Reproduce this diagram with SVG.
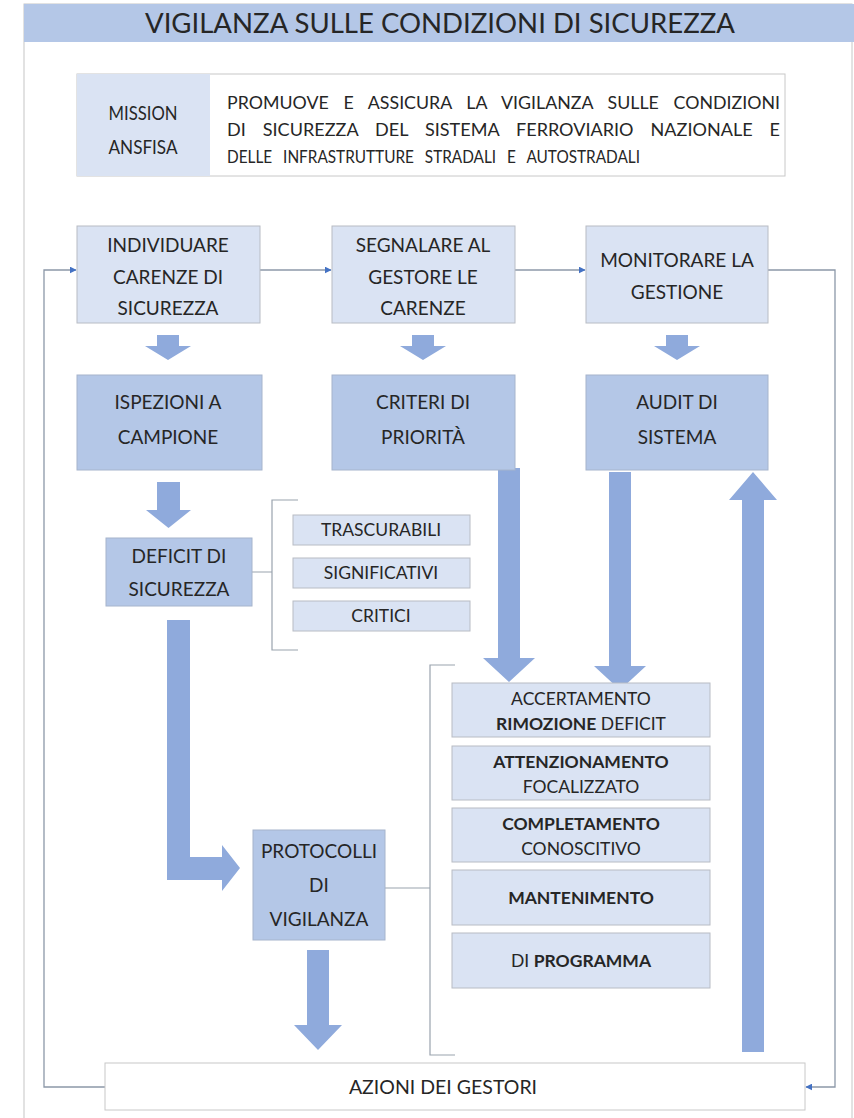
<svg xmlns="http://www.w3.org/2000/svg" width="854" height="1118" viewBox="0 0 854 1118">
  <defs>
    <style>
      text { font-family: Lato, "Open Sans", "Liberation Sans", sans-serif; fill: #262626; text-anchor: middle; }
      .lt { fill: #dae3f3; stroke: #b8bcc4; stroke-width: 1; }
      .dk { fill: #b4c7e7; stroke: #a6b4cc; stroke-width: 1; }
      .wh { fill: #ffffff; stroke: #c8c8c8; stroke-width: 1; }
      .blk { fill: #8faadc; }
      .link { fill: none; stroke: #8c98a8; stroke-width: 1.3; }
      .brk { fill: none; stroke: #9aa3ae; stroke-width: 1.2; }
      .t20 { font-size: 19px; }
      .t17 { font-size: 17.5px; }
      .t18 { font-size: 17.5px; }
      .b { font-weight: bold; }
      .ms { font-size: 17.5px; text-anchor: start; }
    </style>
    <marker id="ah" viewBox="0 0 10 10" refX="9" refY="5" markerWidth="7" markerHeight="7" orient="auto" markerUnits="userSpaceOnUse">
      <path d="M0,0 L10,5 L0,10 z" fill="#4472c4"/>
    </marker>
  </defs>

  <!-- page frame and title band -->
  <rect x="24" y="4" width="828" height="1130" fill="#ffffff" stroke="#c6c6c6" stroke-width="1"/>
  <rect x="24" y="4" width="830" height="38" fill="#b4c7e7"/>
  <text x="440" y="33" font-size="26" textLength="590" lengthAdjust="spacingAndGlyphs">VIGILANZA SULLE CONDIZIONI DI SICUREZZA</text>

  <!-- mission -->
  <g id="mission">
    <rect x="77" y="74" width="708" height="102" class="wh"/>
    <rect x="77" y="74" width="133" height="102" fill="#dae3f3"/>
    <text x="143" y="120" font-size="19" textLength="69" lengthAdjust="spacingAndGlyphs">MISSION</text>
    <text x="143" y="154" font-size="19" textLength="69" lengthAdjust="spacingAndGlyphs">ANSFISA</text>
    <text x="227" y="109" class="ms" word-spacing="10" textLength="553" lengthAdjust="spacingAndGlyphs">PROMUOVE E ASSICURA LA VIGILANZA SULLE CONDIZIONI</text>
    <text x="227" y="136" class="ms" word-spacing="12" textLength="553" lengthAdjust="spacingAndGlyphs">DI SICUREZZA DEL SISTEMA FERROVIARIO NAZIONALE E</text>
    <text x="227" y="163" class="ms" word-spacing="8" textLength="413" lengthAdjust="spacingAndGlyphs">DELLE INFRASTRUTTURE STRADALI E AUTOSTRADALI</text>
  </g>

  <!-- connectors -->
  <g id="connectors">
    <path class="link" d="M260,270 H331" marker-end="url(#ah)"/>
    <path class="link" d="M515,270 H585" marker-end="url(#ah)"/>
    <path class="link" d="M105,1087 H44 V270 H76" marker-end="url(#ah)"/>
    <path class="link" d="M768,270 H835 V1087 H806" marker-end="url(#ah)"/>
    <path class="brk" d="M252,572 H272 M298,500 H272 V650 H298"/>
    <path class="brk" d="M385,888 H430 M455,665 H430 V1055 H455"/>
    <!-- block arrows -->
    <path class="blk" d="M157,335 H179 V346 H191 L168,360 L145,346 H157 Z"/>
    <path class="blk" d="M412,335 H434 V346 H446 L423,360 L400,346 H412 Z"/>
    <path class="blk" d="M666,335 H688 V346 H700 L677,360 L654,346 H666 Z"/>
    <path class="blk" d="M157,482 H180 V510 H191 L168.5,528 L146,510 H157 Z"/>
    <path class="blk" d="M498,468 H520 V658 H535 L509,682 L483,658 H498 Z"/>
    <path class="blk" d="M609,472 H631 V666 H646 L620,690 L594,666 H609 Z"/>
    <path class="blk" d="M742,1052 H764 V500 H777 L753,472 L729,500 H742 Z"/>
    <path class="blk" d="M167,620 H190 V857 H222 V845 L240,868 L222,891 V880 H167 Z"/>
    <path class="blk" d="M307,950 H329 V1025 H342 L318,1050 L294,1025 H307 Z"/>
  </g>

  <!-- first row -->
  <g id="individuare">
    <rect x="77" y="226" width="183" height="97" class="lt"/>
    <text x="168" y="252" class="t20">INDIVIDUARE</text>
    <text x="168" y="284" class="t20">CARENZE DI</text>
    <text x="168" y="315" class="t20">SICUREZZA</text>
  </g>
  <g id="segnalare">
    <rect x="332" y="226" width="183" height="97" class="lt"/>
    <text x="423" y="252" class="t20">SEGNALARE AL</text>
    <text x="423" y="284" class="t20">GESTORE LE</text>
    <text x="423" y="315" class="t20">CARENZE</text>
  </g>
  <g id="monitorare">
    <rect x="586" y="226" width="182" height="97" class="lt"/>
    <text x="677" y="267" class="t20">MONITORARE LA</text>
    <text x="677" y="299" class="t20">GESTIONE</text>
  </g>

  <!-- second row -->
  <g id="ispezioni">
    <rect x="77" y="375" width="185" height="95" class="dk"/>
    <text x="168" y="409" class="t20">ISPEZIONI A</text>
    <text x="168" y="444" class="t20">CAMPIONE</text>
  </g>
  <g id="criteri">
    <rect x="332" y="375" width="183" height="95" class="dk"/>
    <text x="423" y="409" class="t20">CRITERI DI</text>
    <text x="423" y="444" class="t20">PRIORITÀ</text>
  </g>
  <g id="audit">
    <rect x="586" y="375" width="182" height="95" class="dk"/>
    <text x="677" y="409" class="t20">AUDIT DI</text>
    <text x="677" y="444" class="t20">SISTEMA</text>
  </g>

  <!-- deficit and levels -->
  <g id="deficit">
    <rect x="106" y="538" width="146" height="68" class="dk"/>
    <text x="179" y="563" class="t20">DEFICIT DI</text>
    <text x="179" y="596" class="t20">SICUREZZA</text>
  </g>
  <g id="trascurabili">
    <rect x="293" y="515" width="177" height="30" class="lt"/>
    <text x="381" y="536" class="t17">TRASCURABILI</text>
  </g>
  <g id="significativi">
    <rect x="293" y="558" width="177" height="30" class="lt"/>
    <text x="381" y="579" class="t17">SIGNIFICATIVI</text>
  </g>
  <g id="critici">
    <rect x="293" y="601" width="177" height="30" class="lt"/>
    <text x="381" y="622" class="t17">CRITICI</text>
  </g>

  <!-- protocols -->
  <g id="protocolli">
    <rect x="253" y="830" width="132" height="110" class="dk"/>
    <text x="319" y="858" class="t20">PROTOCOLLI</text>
    <text x="319" y="892" class="t20">DI</text>
    <text x="319" y="926" class="t20">VIGILANZA</text>
  </g>
  <g id="accertamento">
    <rect x="452" y="683" width="258" height="54" class="lt"/>
    <text x="581" y="705" class="t18">ACCERTAMENTO</text>
    <text x="581" y="730" class="t18"><tspan class="b">RIMOZIONE</tspan> DEFICIT</text>
  </g>
  <g id="attenzionamento">
    <rect x="452" y="746" width="258" height="54" class="lt"/>
    <text x="581" y="768" class="t18 b">ATTENZIONAMENTO</text>
    <text x="581" y="793" class="t18">FOCALIZZATO</text>
  </g>
  <g id="completamento">
    <rect x="452" y="808" width="258" height="54" class="lt"/>
    <text x="581" y="830" class="t18 b">COMPLETAMENTO</text>
    <text x="581" y="855" class="t18">CONOSCITIVO</text>
  </g>
  <g id="mantenimento">
    <rect x="452" y="870" width="258" height="55" class="lt"/>
    <text x="581" y="904" class="t18 b">MANTENIMENTO</text>
  </g>
  <g id="programma">
    <rect x="452" y="933" width="258" height="55" class="lt"/>
    <text x="581" y="967" class="t18">DI <tspan class="b">PROGRAMMA</tspan></text>
  </g>

  <!-- managers' actions -->
  <g id="azioni">
    <rect x="105" y="1063" width="700" height="47" class="wh"/>
    <text x="443" y="1094" font-size="19.5">AZIONI DEI GESTORI</text>
  </g>
</svg>
